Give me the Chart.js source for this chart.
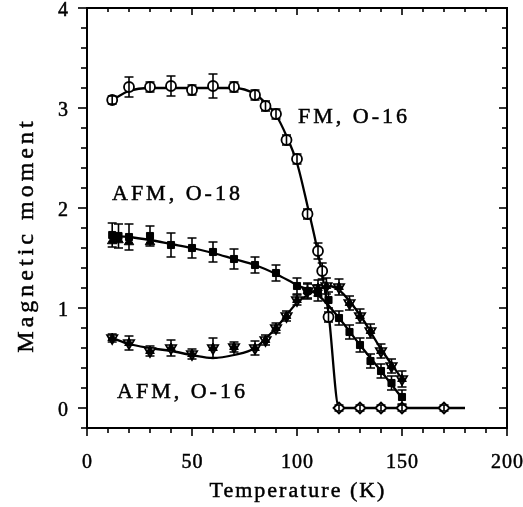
<!DOCTYPE html>
<html><head><meta charset="utf-8">
<script src="https://cdn.jsdelivr.net/npm/chart.js@4/dist/chart.umd.min.js"></script>
<style>html,body{margin:0;padding:0;background:#fff}</style>
</head><body>
<canvas id="c" width="523" height="507"></canvas>
<script>
// ---- data ----
const fmT   = [12,20,30,40,50,60,70,80,85,90,95,100,105,110,112,115,120,130,140,150,170];
const fmM   = [3.08,3.21,3.21,3.22,3.18,3.22,3.21,3.13,3.02,2.94,2.68,2.49,1.94,1.57,1.37,0.91,0,0,0,0,0];
const fmErr = [0.04,0.1,0.05,0.1,0.05,0.12,0.05,0.05,0.05,0.05,0.05,0.05,0.05,0.08,0.08,0.05,0.03,0.03,0.03,0.03,0.03];

const o18T   = [12,15,20,30,40,50,60,70,80,90,100,105,110,115,120,125,130,135,140,145,150];
const o18M   = [1.73,1.72,1.71,1.72,1.63,1.6,1.56,1.49,1.43,1.35,1.22,1.17,1.15,1.08,0.9,0.76,0.63,0.47,0.37,0.25,0.11];
const o18Err = [0.12,0.12,0.13,0.1,0.12,0.1,0.1,0.1,0.08,0.08,0.08,0.08,0.08,0.08,0.07,0.07,0.07,0.07,0.07,0.07,0.07];
const o18bT  = [12,15,20,30];
const o18bM  = [1.67,1.68,1.66,1.66];

const o16T   = [12,20,30,40,50,60,70,80,85,90,95,100,105,110,114,120,125,130,135,140,145,150];
const o16M   = [0.70,0.65,0.57,0.6,0.54,0.6,0.61,0.6,0.68,0.8,0.92,1.08,1.17,1.2,1.22,1.21,1.05,0.92,0.77,0.57,0.42,0.29];
const o16Err = [0.04,0.07,0.05,0.08,0.05,0.1,0.05,0.07,0.05,0.05,0.05,0.05,0.07,0.08,0.08,0.08,0.07,0.07,0.07,0.07,0.07,0.08];

const fmFitT  = [12,20,30,40,50,60,70,80,85,90,95,100,105,110,115,120,180];
const fmFitM  = [3.08,3.17,3.2,3.2,3.2,3.2,3.2,3.14,3.05,2.93,2.72,2.45,2.02,1.55,0.95,0,0];
const o18FitT = [12,20,30,40,50,60,70,80,90,100,110,120,130,140,150];
const o18FitM = [1.72,1.71,1.68,1.64,1.6,1.55,1.49,1.43,1.34,1.23,1.13,0.9,0.63,0.37,0.1];
const o16FitT = [12,20,30,40,50,60,70,80,90,100,110,115,120,130,140,150];
const o16FitM = [0.7,0.64,0.6,0.57,0.53,0.5,0.53,0.6,0.8,1.05,1.19,1.22,1.18,0.93,0.59,0.29];

const xTickValues = [0,50,100,150,200];
const xTickLabels = ['0','50','100','150','200'];
const yTickValues = [0,1,2,3,4];
const yTickLabels = ['0','1','2','3','4'];
const xTitle = 'Temperature (K)';
const yTitle = 'Magnetic moment';
const seriesLabels = ['FM, O-16','AFM, O-18','AFM, O-16'];
const labelAnchors = [[100.5,2.85],[11.9,2.08],[14.3,0.1]];

const pts = (xs, ys) => xs.map((v,i)=>({x:v, y:ys[i]}));
const SERIF = '"Liberation Serif", "DejaVu Serif", serif';

const fitStyle = {showLine:true, pointRadius:0, borderColor:'#000', borderWidth:2.3,
  cubicInterpolationMode:'monotone', order:5};

const errorBars = {
  id:'errorBars',
  afterDatasetsDraw(chart){
    const ctx = chart.ctx;
    ctx.save();
    ctx.strokeStyle='#000'; ctx.lineWidth=1.6;
    chart.data.datasets.forEach((ds,di)=>{
      if(!ds.errors) return;
      const ys = chart.scales.y;
      const meta = chart.getDatasetMeta(di);
      meta.data.forEach((el,i)=>{
        const e = ds.errors[i]; const v = ds.data[i].y;
        const top = ys.getPixelForValue(v+e), bot = ys.getPixelForValue(v-e);
        ctx.beginPath();
        ctx.moveTo(el.x, top); ctx.lineTo(el.x, bot);
        ctx.moveTo(el.x-4.5, top); ctx.lineTo(el.x+4.5, top);
        ctx.moveTo(el.x-4.5, bot); ctx.lineTo(el.x+4.5, bot);
        ctx.stroke();
      });
    });
    ctx.restore();
  }
};

function boldText(ctx, s, x, y){
  ctx.fillText(s, x, y);
  ctx.strokeText(s, x, y);
}

const frame = {
  id:'frame',
  afterDraw(chart){
    const {ctx, chartArea:a, scales:{x, y}} = chart;
    ctx.save();
    ctx.strokeStyle='#000'; ctx.fillStyle='#000';
    ctx.lineWidth=2;
    ctx.strokeRect(a.left, a.top, a.right-a.left, a.bottom-a.top);
    ctx.lineWidth=1.6;
    const ln=(x1,y1,x2,y2)=>{ctx.beginPath();ctx.moveTo(x1,y1);ctx.lineTo(x2,y2);ctx.stroke();};
    x.ticks.forEach(t=>{
      const px = x.getPixelForValue(t.value);
      const major = xTickValues.some(v=>Math.abs(v-t.value)<1e-6);
      ln(px, a.bottom, px, a.bottom+(major?8:5));
      ln(px, a.top, px, a.top+(major?7:4));
    });
    y.ticks.forEach(t=>{
      const py = y.getPixelForValue(t.value);
      const major = yTickValues.some(v=>Math.abs(v-t.value)<1e-6);
      ln(a.left-(major?9:6), py, a.left, py);
      ln(a.right-(major?8:5), py, a.right, py);
    });
    ctx.lineWidth = 0.5;
    // tick labels
    ctx.font = '20px ' + SERIF;
    ctx.letterSpacing = '1px';
    ctx.textBaseline = 'alphabetic';
    ctx.textAlign = 'center';
    xTickValues.forEach((v,i)=>{
      boldText(ctx, xTickLabels[i], x.getPixelForValue(v)+0.5, a.bottom+40);
    });
    ctx.textAlign = 'right';
    yTickValues.forEach((v,i)=>{
      boldText(ctx, yTickLabels[i], a.left-18, y.getPixelForValue(v)+8);
    });
    // axis titles
    ctx.font = '22px ' + SERIF;
    ctx.letterSpacing = '2px';
    ctx.textAlign = 'center';
    boldText(ctx, xTitle, (a.left+a.right)/2 + 1, 497);
    ctx.save();
    ctx.translate(33, 235);
    ctx.rotate(-Math.PI/2);
    ctx.font = '24px ' + SERIF;
    ctx.letterSpacing = '4px';
    boldText(ctx, yTitle, 0, 0);
    ctx.restore();
    // series annotations
    ctx.font = '22px ' + SERIF;
    ctx.letterSpacing = '3px';
    ctx.textAlign = 'left';
    seriesLabels.forEach((s,i)=>{
      boldText(ctx, s, x.getPixelForValue(labelAnchors[i][0]), y.getPixelForValue(labelAnchors[i][1]));
    });
    ctx.restore();
  }
};

new Chart(document.getElementById('c'), {
  type:'scatter',
  data:{datasets:[
    Object.assign({label:'fit FM', data:pts(fmFitT, fmFitM)}, fitStyle),
    Object.assign({label:'fit O18', data:pts(o18FitT, o18FitM)}, fitStyle),
    Object.assign({label:'fit O16', data:pts(o16FitT, o16FitM)}, fitStyle),
    {label:'FM, O-16', data:pts(fmT, fmM), errors:fmErr, order:1,
      pointStyle:(c)=> (c.raw && c.raw.y===0) ? 'rectRot' : 'circle',
      pointRadius:(c)=> (c.raw && c.raw.y===0) ? 5.5 : 5,
      backgroundColor:'#fff', borderColor:'#000', borderWidth:1.8},
    {label:'AFM, O-18', data:pts(o18T, o18M), errors:o18Err, order:2,
      pointStyle:'rect', pointRadius:5, backgroundColor:'#000', borderColor:'#000', borderWidth:1},
    {label:'AFM, O-18 b', data:pts(o18bT, o18bM), order:2,
      pointStyle:'triangle', pointRadius:5.5, backgroundColor:'#000', borderColor:'#000', borderWidth:1},
    {label:'AFM, O-16 open', data:pts(o16T, o16M), errors:o16Err, order:3,
      pointStyle:'triangle', rotation:180, pointRadius:6, backgroundColor:'#fff', borderColor:'#000', borderWidth:1.7},
    {label:'AFM, O-16', data:pts(o16T, o16M), order:2,
      pointStyle:'triangle', pointRadius:5, backgroundColor:'#000', borderColor:'#000', borderWidth:1}
  ]},
  options:{
    responsive:false, animation:false, devicePixelRatio:1,
    layout:{padding:{left:0, top:8, right:16, bottom:0}},
    plugins:{legend:{display:false}, tooltip:{enabled:false}},
    scales:{
      x:{type:'linear', min:0, max:200, grid:{display:false}, border:{display:false},
         ticks:{display:false, stepSize:10}, afterFit:(s)=>{s.height=79;}},
      y:{type:'linear', min:-0.2, max:4, grid:{display:false}, border:{display:false},
         ticks:{display:false, stepSize:0.2}, afterFit:(s)=>{s.width=87;}}
    }
  },
  plugins:[errorBars, frame]
});
</script>
</body></html>
